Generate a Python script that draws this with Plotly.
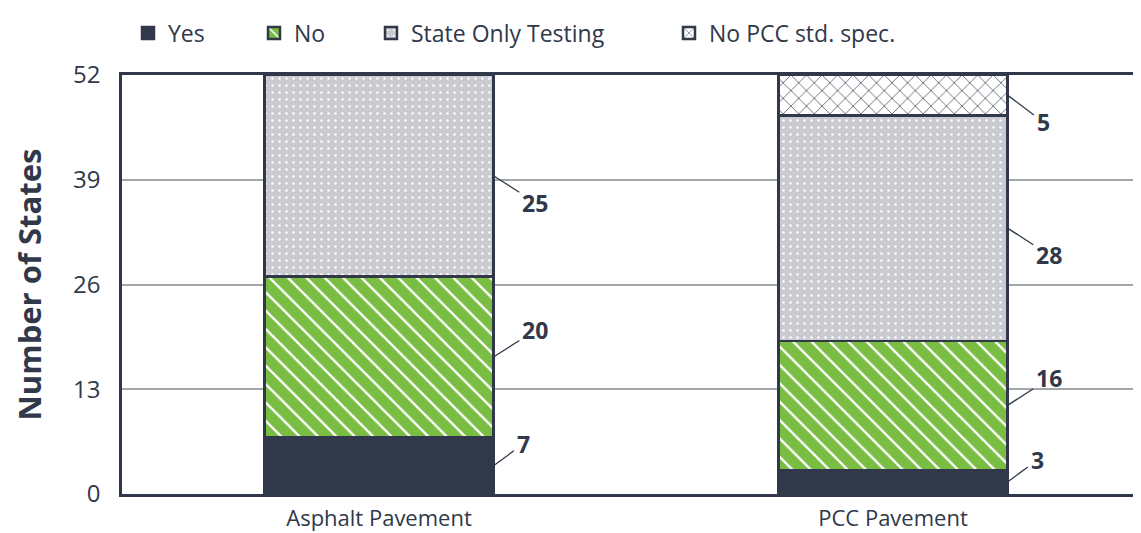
import plotly.graph_objects as go

categories = ["Asphalt Pavement", "PCC Pavement"]
series_names = ["Yes", "No", "State Only Testing", "No PCC std. spec."]
yes_vals = [7, 3]
no_vals = [20, 16]
state_vals = [25, 28]
nopcc_vals = [None, 5]
y_ticks = [0, 13, 26, 39, 52]

DARK = "#30384a"
GREEN = "#79bd43"
GRAY = "#c9cbd0"
GRID = "#a3a6ab"
FONT = "Open Sans"

# page has an 8px body margin: figure is sized so it fills the 1141x533 window
W, H = 1133, 525

x_pos = list(range(len(categories)))
bar_w = 0.4455

styles = [
    dict(color=DARK, pattern=dict(shape="")),
    dict(color=GREEN, pattern=dict(shape="\\", fgcolor="white", bgcolor=GREEN, size=13, solidity=0.18, fillmode="replace")),
    dict(color=GRAY, pattern=dict(shape=".", fgcolor="white", bgcolor=GRAY, size=7, solidity=0.1, fillmode="replace")),
    dict(color="white", pattern=dict(shape="x", fgcolor=DARK, bgcolor="white", size=11, solidity=0.12, fillmode="replace")),
]
all_vals = [yes_vals, no_vals, state_vals, nopcc_vals]
legend_ids = ["legend", "legend2", "legend3", "legend4"]
legend_x_px = [120, 246, 363, 661]

fig = go.Figure()
for name, vals, st, lg in zip(series_names, all_vals, styles, legend_ids):
    fig.add_trace(go.Bar(
        x=x_pos, y=vals, name=name, width=bar_w, legend=lg,
        marker=dict(color=st["color"], pattern=st["pattern"], line=dict(color=DARK, width=2.5)),
        hoverinfo="skip",
    ))

# leader-line labels
offsets = {  # (ax, ay) in px per series
    0: (30, -22), 1: (42, -27), 2: (42, 27), 3: (36, 27),
}
for ci, xc in enumerate(x_pos):
    base = 0
    for si, vals in enumerate(all_vals):
        v = vals[ci]
        if v is None:
            continue
        ax, ay = offsets[si]
        fig.add_annotation(
            x=xc + bar_w / 2, y=base + v / 2, xref="x", yref="y",
            text=f"<b>{v}</b>", showarrow=True, arrowhead=0, arrowwidth=1.3,
            arrowcolor=DARK, ax=ax, ay=ay, standoff=0, startstandoff=2,
            font=dict(family=FONT, size=23, color=DARK),
        )
        base += v

legend_common = dict(orientation="h", xref="container", yref="container",
                     y=1.0 - 25 / H, xanchor="left", yanchor="middle",
                     font=dict(size=23, color=DARK), bgcolor="rgba(0,0,0,0)")
layout_legends = {lg: dict(legend_common, x=px / W) for lg, px in zip(legend_ids, legend_x_px)}

fig.update_layout(
    barmode="stack",
    width=W, height=H,
    margin=dict(l=114, r=0, t=67, b=39, autoexpand=False),
    paper_bgcolor="white", plot_bgcolor="white",
    font=dict(family=FONT, color=DARK, size=23),
    showlegend=True,
    **layout_legends,
    xaxis=dict(range=[-0.5, 1.4825], tickvals=x_pos, ticktext=categories,
               showline=True, mirror=True, linecolor=DARK, linewidth=2.5,
               showgrid=False, ticks="", ticklabelstandoff=3, automargin=False,
               tickfont=dict(size=22, color=DARK), fixedrange=True),
    yaxis=dict(range=[0, 52], tickvals=y_ticks, showline=True, linecolor=DARK, linewidth=2.5,
               showgrid=True, gridcolor=GRID, gridwidth=2, zeroline=False, automargin=False,
               ticks="", ticklabelstandoff=14, tickfont=dict(size=24, color=DARK),
               title=dict(text="<b>Number of States</b>", font=dict(size=31, color=DARK), standoff=30),
               fixedrange=True),
)

fig.write_html("out.html")
